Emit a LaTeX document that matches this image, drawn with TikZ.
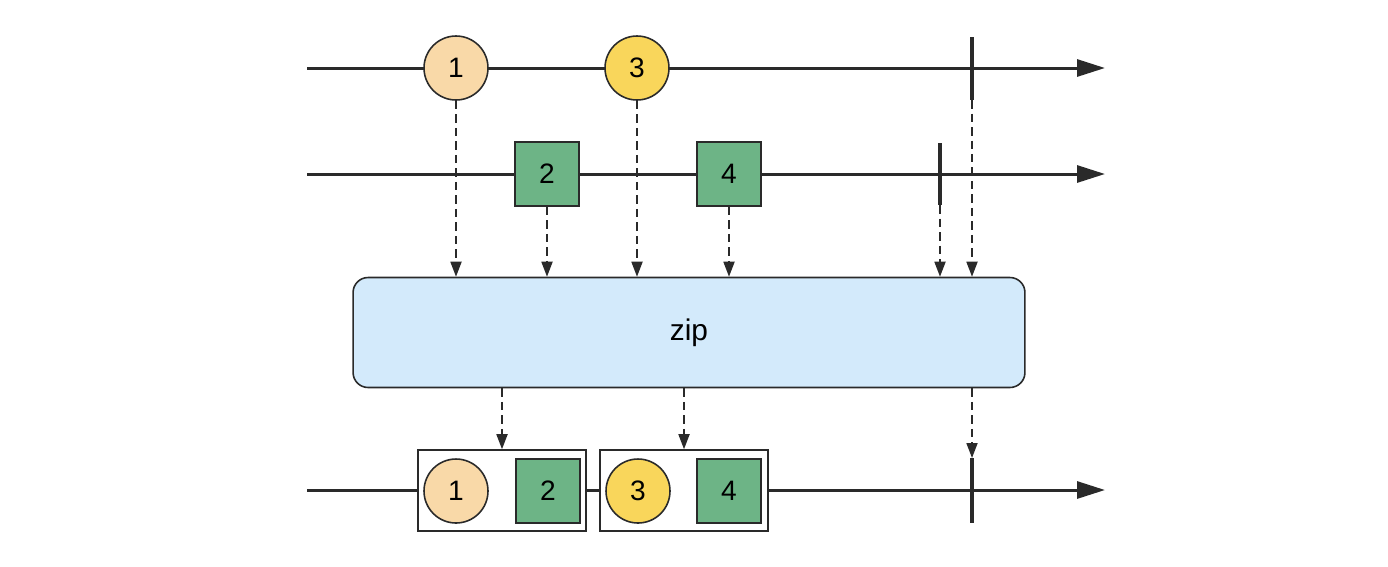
\documentclass[tikz,border=0pt]{standalone}
\usepackage{fontspec}
\setsansfont{Liberation Sans}
\usetikzlibrary{arrows.meta,positioning}
\definecolor{peach}{HTML}{F9D9A8}
\definecolor{gold}{HTML}{F9D65B}
\definecolor{leaf}{HTML}{6DB486}
\definecolor{sky}{HTML}{D3EAFB}
\definecolor{ink}{HTML}{2A2A2A}
\tikzset{
  tline/.style={draw=ink, line width=1.7pt, -{Triangle[length=0.56cm,width=0.34cm]}},
  bar/.style={draw=ink, line width=2.2pt},
  darr/.style={draw=ink, line width=1pt, dash pattern=on 0.17cm off 0.1cm, -{Triangle[length=0.3cm,width=0.22cm]}},
  circ/.style={circle, draw=ink, line width=0.9pt, minimum size=1.28cm, inner sep=0pt, font=\sffamily\fontsize{16}{18}\selectfont},
  sq/.style={rectangle, draw=ink, line width=0.9pt, fill=leaf, minimum size=1.28cm, inner sep=0pt, font=\sffamily\fontsize{16}{18}\selectfont},
  grp/.style={rectangle, draw=ink, line width=0.9pt, fill=white, minimum width=3.36cm, minimum height=1.62cm, inner sep=0pt}
}
\begin{document}
\begin{tikzpicture}[x=0.02cm,y=-0.02cm]
	\useasboundingbox (0,0) rectangle (1388,566);
	% timelines
	\coordinate (s1) at (307,68);
	\coordinate (e1) at (1105,68);
	\coordinate (s2) at (307,174);
	\coordinate (e2) at (1105,174);
	\coordinate (s3) at (307,490);
	\coordinate (e3) at (1105,490);
	\draw [tline] (s1) -- (e1);
	\draw [tline] (s2) -- (e2);
	\draw [tline] (s3) -- (e3);
	% inputs
	\node [circ, fill=peach] (a1) at (456,68) {1};
	\node [circ, fill=gold] (a3) at (637,68) {3};
	\node [sq] (b2) at (547,174) {2};
	\node [sq] (b4) at (729,174) {4};
	\coordinate (c1t) at (972,37);
	\coordinate (c1b) at (972,100);
	\coordinate (c2t) at (940,143);
	\coordinate (c2b) at (940,205);
	\draw [bar] (c1t) -- (c1b);
	\draw [bar] (c2t) -- (c2b);
	% operator
	\node [rectangle, rounded corners=0.3cm, draw=ink, line width=0.9pt, fill=sky, minimum width=13.44cm, minimum height=2.2cm, font=\sffamily\fontsize{17}{20}\selectfont] (zip) at (689,332.5) {zip};
	\draw [darr] (a1) -- (a1 |- zip.north);
	\draw [darr] (b2) -- (b2 |- zip.north);
	\draw [darr] (a3) -- (a3 |- zip.north);
	\draw [darr] (b4) -- (b4 |- zip.north);
	\draw [darr] (c2b) -- (c2b |- zip.north);
	\draw [darr] (c1b) -- (c1b |- zip.north);
	% output
	\node [grp] (g1) at (502,490.5) {};
	\node [grp] (g2) at (684,490.5) {};
	\node [circ, fill=peach] (o1) at (456,491) {1};
	\node [sq] (o2) at (548,491) {2};
	\node [circ, fill=gold] (o3) at (638,491) {3};
	\node [sq] (o4) at (729,491) {4};
	\coordinate (c3t) at (972,458);
	\coordinate (c3b) at (972,523);
	\draw [bar] (c3t) -- (c3b);
	\draw [darr] (zip.south -| g1.north) -- (g1.north);
	\draw [darr] (zip.south -| g2.north) -- (g2.north);
	\draw [darr] (zip.south -| c3t) -- (c3t);
\end{tikzpicture}
\end{document}
